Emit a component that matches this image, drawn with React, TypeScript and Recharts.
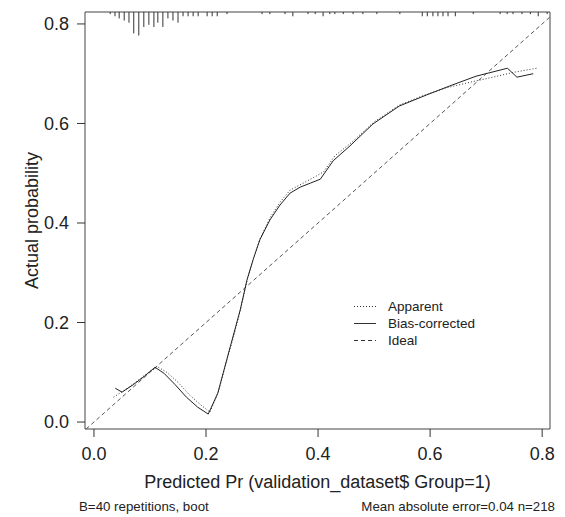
import {
  ComposedChart,
  Line,
  ReferenceArea,
  ReferenceLine,
  XAxis,
  YAxis,
} from "recharts";

// calibration curves
const apparentX = [
  0.035, 0.06, 0.08, 0.1, 0.115, 0.13, 0.15, 0.17, 0.19, 0.207, 0.222, 0.238,
  0.25, 0.262, 0.274, 0.285, 0.297, 0.315, 0.333, 0.35, 0.37, 0.39, 0.41, 0.43,
  0.46, 0.5, 0.545, 0.59, 0.63, 0.68, 0.72, 0.75, 0.79,
];
const apparentY = [
  0.05, 0.068, 0.085, 0.102, 0.11, 0.1, 0.08, 0.055, 0.035, 0.02, 0.06, 0.128,
  0.175, 0.228, 0.288, 0.33, 0.37, 0.412, 0.443, 0.466, 0.478, 0.49, 0.503,
  0.535, 0.562, 0.603, 0.637, 0.657, 0.672, 0.685, 0.695, 0.703, 0.711,
];

const biasX = [
  0.038, 0.05, 0.07, 0.09, 0.109, 0.125, 0.145, 0.165, 0.185, 0.204, 0.221,
  0.237, 0.248, 0.261, 0.273, 0.284, 0.296, 0.314, 0.332, 0.35, 0.368, 0.386,
  0.404, 0.427, 0.457, 0.498, 0.545, 0.593, 0.634, 0.682, 0.738, 0.755, 0.784,
];
const biasY = [
  0.068, 0.06, 0.075, 0.092, 0.11, 0.098, 0.075, 0.05, 0.03, 0.016, 0.058,
  0.125, 0.171, 0.225, 0.285, 0.326, 0.366, 0.406, 0.436, 0.46, 0.472, 0.48,
  0.488, 0.525, 0.555, 0.599, 0.635, 0.657, 0.675, 0.695, 0.711, 0.693, 0.7,
];

// rug of predicted probabilities along the top
const rugX = [
  0.029, 0.0375, 0.045, 0.054, 0.0625, 0.071, 0.08, 0.089, 0.098, 0.107, 0.114,
  0.123, 0.132, 0.141, 0.15, 0.159, 0.168, 0.177, 0.186, 0.202, 0.211, 0.22,
  0.2375, 0.3, 0.314, 0.341, 0.355, 0.382, 0.395, 0.409, 0.421, 0.43, 0.445,
  0.4625, 0.48, 0.505, 0.546, 0.586, 0.595, 0.605, 0.614, 0.623, 0.632, 0.645,
  0.677, 0.725, 0.7375, 0.748, 0.764, 0.779, 0.793, 0.809,
];
const rugCount = [
  1, 2, 3, 4, 5, 10, 11, 7, 6, 7, 5, 7, 3, 4, 5, 2, 2, 2, 2, 2, 2, 2, 1, 1, 1,
  1, 2, 1, 1, 2, 1, 1, 1, 1, 1, 1, 1, 2, 2, 2, 2, 2, 2, 2, 1, 1, 1, 1, 1, 1, 2,
  1,
];

const xTicks = [0, 0.2, 0.4, 0.6, 0.8];
const yTicks = [0, 0.2, 0.4, 0.6, 0.8];

const X_MIN = -0.016;
const X_MAX = 0.814;
const Y_MIN = -0.014;
const Y_MAX = 0.824;
const RUG_UNIT = 0.0043;

const apparent = apparentX.map((x, i) => ({ x, y: apparentY[i] }));
const biasCorrected = biasX.map((x, i) => ({ x, y: biasY[i] }));

const FONT = "'Liberation Sans', Arial, Helvetica, sans-serif";
const INK = "#222";

const legendItems = [
  { label: "Apparent", dash: "1 2" },
  { label: "Bias-corrected", dash: undefined },
  { label: "Ideal", dash: "4 3" },
];

export default function App() {
  const lo = Math.max(X_MIN, Y_MIN);
  const hi = Math.min(X_MAX, Y_MAX);

  return (
    <div
      style={{
        position: "absolute",
        left: 0,
        top: 0,
        width: 565,
        height: 517,
        background: "#fff",
        fontFamily: FONT,
        color: INK,
      }}
    >
      <ComposedChart
        width={565}
        height={517}
        margin={{ top: 12, right: 15, bottom: 0, left: 0 }}
      >
        <XAxis
          type="number"
          dataKey="x"
          domain={[X_MIN, X_MAX]}
          ticks={xTicks}
          allowDataOverflow
          tickFormatter={(v: number) => v.toFixed(1)}
          axisLine={false}
          tickLine={{ stroke: "#333" }}
          tickSize={8}
          tickMargin={10}
          height={88}
          tick={{ fill: INK, fontSize: 18, fontFamily: FONT }}
          label={{
            content: (props: any) => {
              const vb = props.viewBox;
              return (
                <text
                  x={vb.x + vb.width / 2}
                  y={vb.y + 59}
                  textAnchor="middle"
                  fontSize={18}
                  fontFamily={FONT}
                  fill={INK}
                >
                  Predicted Pr (validation_dataset$ Group=1)
                </text>
              );
            },
          }}
        />
        <YAxis
          type="number"
          dataKey="y"
          domain={[Y_MIN, Y_MAX]}
          ticks={yTicks}
          allowDataOverflow
          tickFormatter={(v: number) => v.toFixed(1)}
          axisLine={false}
          tickLine={{ stroke: "#333" }}
          tickSize={8}
          tickMargin={8}
          width={85}
          tick={{ fill: INK, fontSize: 18, fontFamily: FONT }}
          label={{
            content: (props: any) => {
              const vb = props.viewBox;
              const cy = vb.y + vb.height / 2;
              return (
                <text
                  x={32}
                  y={cy}
                  transform={`rotate(-90, 32, ${cy})`}
                  textAnchor="middle"
                  dominantBaseline="central"
                  fontSize={18}
                  fontFamily={FONT}
                  fill={INK}
                >
                  Actual probability
                </text>
              );
            },
          }}
        />

        <ReferenceArea
          x1={X_MIN}
          x2={X_MAX}
          y1={Y_MIN}
          y2={Y_MAX}
          fill="none"
          stroke="#444"
          strokeWidth={1}
          ifOverflow="visible"
        />

        {rugX.map((x, i) => (
          <ReferenceLine
            key={`rug-${i}`}
            segment={[
              { x, y: Y_MAX },
              { x, y: Y_MAX - rugCount[i] * RUG_UNIT },
            ]}
            stroke="#333"
            strokeWidth={1}
            ifOverflow="visible"
          />
        ))}

        <ReferenceLine
          segment={[
            { x: lo, y: lo },
            { x: hi, y: hi },
          ]}
          stroke="#555"
          strokeWidth={1}
          strokeDasharray="4 3"
          ifOverflow="visible"
        />

        <Line
          data={apparent}
          dataKey="y"
          type="linear"
          stroke="#333"
          strokeWidth={1}
          strokeDasharray="1 2"
          dot={false}
          isAnimationActive={false}
        />
        <Line
          data={biasCorrected}
          dataKey="y"
          type="linear"
          stroke="#222"
          strokeWidth={1}
          dot={false}
          isAnimationActive={false}
        />
      </ComposedChart>

      <div style={{ position: "absolute", left: 352, top: 298, fontSize: 13.5 }}>
        {legendItems.map((item) => (
          <div
            key={item.label}
            style={{ display: "flex", alignItems: "center", height: 17 }}
          >
            <svg width={26} height={17} style={{ marginRight: 10 }}>
              <line
                x1={2}
                y1={8.5}
                x2={24}
                y2={8.5}
                stroke="#333"
                strokeWidth={1}
                strokeDasharray={item.dash}
              />
            </svg>
            <span>{item.label}</span>
          </div>
        ))}
      </div>

      <div style={{ position: "absolute", left: 79, top: 499, fontSize: 13.3 }}>
        B=40 repetitions, boot
      </div>
      <div
        style={{
          position: "absolute",
          right: 10,
          top: 499,
          fontSize: 13.3,
          textAlign: "right",
        }}
      >
        Mean absolute error=0.04 n=218
      </div>
    </div>
  );
}
